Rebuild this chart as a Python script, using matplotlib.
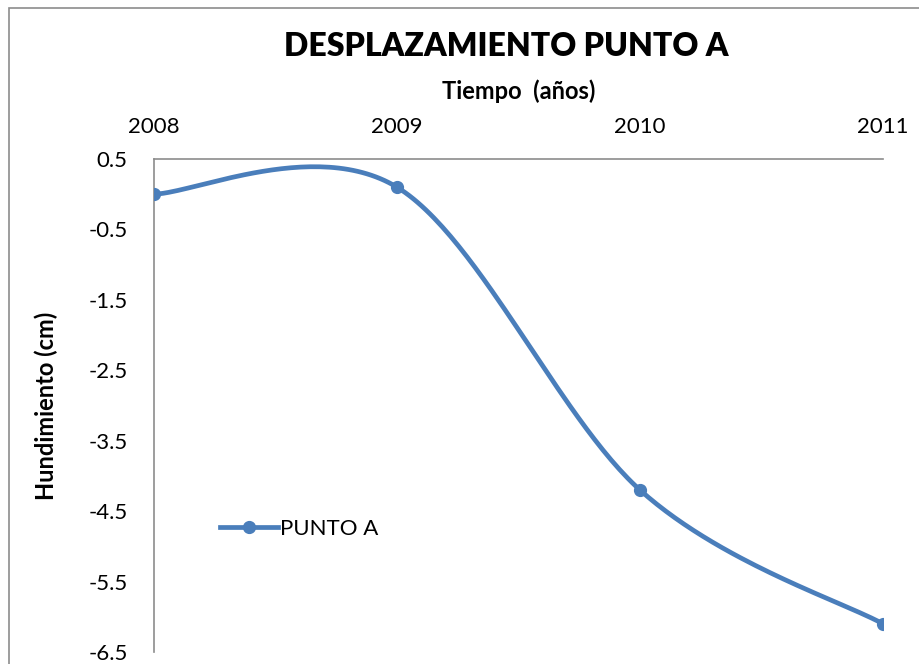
import numpy as np
import matplotlib.pyplot as plt
from matplotlib.patches import Rectangle

plt.rcParams['font.family'] = ['Lato', 'DejaVu Sans']

years = [2008, 2009, 2010, 2011]
hundimiento = [0.0, 0.1, -4.2, -6.1]
y_ticks = [0.5, -0.5, -1.5, -2.5, -3.5, -4.5, -5.5, -6.5]

BLUE = "#4A7EBB"


def smooth_curve(xs, ys, n=60):
    # cubic bezier segments with catmull-rom style handles (1/6 of neighbour span)
    xs = np.asarray(xs, float)
    ys = np.asarray(ys, float)
    px = np.concatenate([[xs[0]], xs, [xs[-1]]])
    py = np.concatenate([[ys[0]], ys, [ys[-1]]])
    out_x, out_y = [], []
    t = np.linspace(0, 1, n)
    for i in range(1, len(px) - 2):
        p0 = np.array([px[i], py[i]])
        p3 = np.array([px[i + 1], py[i + 1]])
        c1 = p0 + (np.array([px[i + 1], py[i + 1]]) - np.array([px[i - 1], py[i - 1]])) / 6
        c2 = p3 - (np.array([px[i + 2], py[i + 2]]) - np.array([px[i], py[i]])) / 6
        b = ((1 - t) ** 3)[:, None] * p0 + (3 * (1 - t) ** 2 * t)[:, None] * c1 \
            + (3 * (1 - t) * t ** 2)[:, None] * c2 + (t ** 3)[:, None] * p3
        out_x.extend(b[:, 0])
        out_y.extend(b[:, 1])
    return out_x, out_y


fig = plt.figure(figsize=(9.2, 6.64), dpi=100)
fig.patches.append(Rectangle((9.5 / 920, -0.05), 1.2, 1 - 7.5 / 664 + 0.05,
                             transform=fig.transFigure, fill=False,
                             edgecolor="#8c8c8c", lw=1.2))

ax = fig.add_axes([154 / 920, 1 - 652 / 664, (883 - 154) / 920, (652 - 159) / 664])

sx, sy = smooth_curve(years, hundimiento)
ax.plot(sx, sy, color=BLUE, lw=3.4, solid_capstyle="round", zorder=3)
ax.plot(years, hundimiento, "o", color=BLUE, ms=8.5, zorder=4)
ax.plot([], [], "-o", color=BLUE, lw=3.4, ms=8.5, label="PUNTO A")

ax.set_xlim(2008, 2011)
ax.set_ylim(-6.5, 0.5)
ax.set_xticks(years)
ax.set_yticks(y_ticks)
ax.set_yticklabels([f"{v:.1f}" for v in y_ticks])
ax.xaxis.tick_top()
ax.tick_params(axis="both", length=0, labelsize=16, labelcolor="black")
ax.tick_params(axis="x", pad=16)
ax.tick_params(axis="y", pad=19)

for side in ("right", "bottom"):
    ax.spines[side].set_visible(False)
for side in ("left", "top"):
    ax.spines[side].set_color("#8c8c8c")
    ax.spines[side].set_linewidth(1.2)

ax.xaxis.set_label_position("top")
ax.set_xlabel("Tiempo  (años)", fontsize=17, fontweight="bold", labelpad=13)
ax.set_ylabel("Hundimiento (cm)", fontsize=17, fontweight="bold", labelpad=22)

fig.text(506 / 920, 1 - 46 / 664, "DESPLAZAMIENTO PUNTO A", ha="center", va="center",
         fontsize=23, fontweight="heavy")

ax.legend(loc="center left", bbox_to_anchor=(0.078, 0.25), frameon=False,
          fontsize=16, handlelength=2.6, handletextpad=0.1, borderaxespad=0)

fig.savefig("out.png", dpi=100)
